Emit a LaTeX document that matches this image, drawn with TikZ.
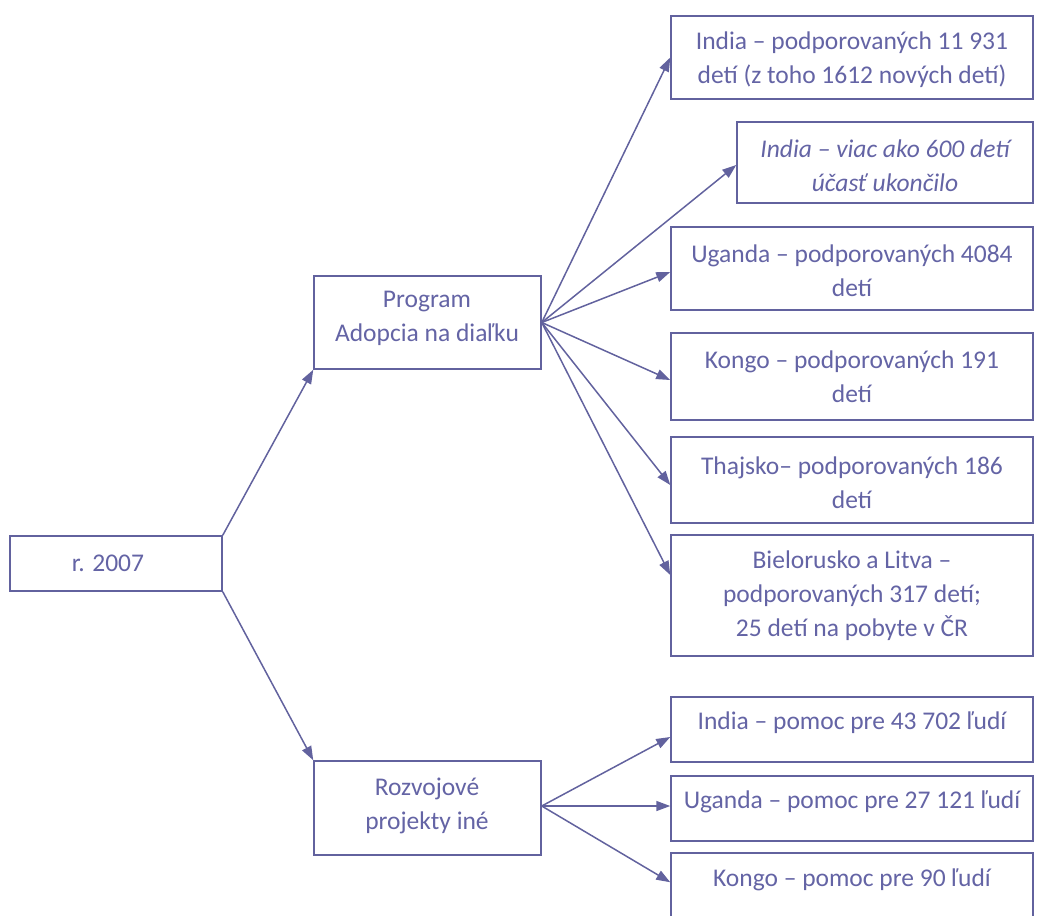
\documentclass[tikz,border=0pt]{standalone}
\usepackage{fontspec}
\setmainfont{Carlito}
\usetikzlibrary{arrows.meta,calc}
\definecolor{ink}{RGB}{98,98,158}
\definecolor{txt}{RGB}{100,100,165}
\begin{document}
\begin{tikzpicture}[x=1pt,y=-1pt,
  box/.style={draw=ink,line width=1.5pt,inner sep=0pt,fill=white},
  lbl/.style={text=txt,font=\fontsize{25.5}{34}\selectfont,align=center,inner sep=0pt},
  conn/.style={draw=ink,line width=1.5pt,-{Triangle[length=14pt,width=10pt]}}]
\clip (0,0) rectangle (1038,915);
\useasboundingbox (0,0) rectangle (1038,915);
% boxes: corners in pixel coordinates
\node[box,minimum width=212pt,minimum height=55pt] (root) at (116,563.5) {};
\node[box,minimum width=227pt,minimum height=93pt] (prog) at (427.5,322.5) {};
\node[box,minimum width=227pt,minimum height=94pt] (rozv) at (427.5,808) {};
\node[box,minimum width=362pt,minimum height=83pt] (b1) at (852,57.5) {};
\node[box,minimum width=296pt,minimum height=81pt] (b2) at (885,162.5) {};
\node[box,minimum width=362pt,minimum height=83pt] (b3) at (852,268.5) {};
\node[box,minimum width=362pt,minimum height=87pt] (b4) at (852,376.5) {};
\node[box,minimum width=362pt,minimum height=86pt] (b5) at (852,480) {};
\node[box,minimum width=362pt,minimum height=121pt] (b6) at (852,595.5) {};
\node[box,minimum width=362pt,minimum height=65pt] (b7) at (852,729.5) {};
\node[box,minimum width=362pt,minimum height=65pt] (b8) at (852,808.5) {};
\node[box,minimum width=362pt,minimum height=90pt] (b9) at (852,898) {};
% texts
\node[lbl] (troot) at (108,563) {r. 2007};
\node[lbl] (tprog) at (427,318) {Program\\Adopcia na diaľku};
\node[lbl] (trozv) at (427,806) {Rozvojové\\projekty iné};
\node[lbl] (t1) at (852,60) {India – podporovaných 11 931\\detí (z toho 1612 nových detí)};
\node[lbl,font=\fontsize{25.5}{34}\selectfont\itshape] (t2) at (885,166) {India – viac ako 600 detí\\účasť ukončilo};
\node[lbl] (t3) at (852,271) {Uganda – podporovaných 4084\\detí};
\node[lbl] (t4) at (852,377) {Kongo – podporovaných 191\\detí};
\node[lbl] (t5) at (852,483) {Thajsko– podporovaných 186\\detí};
\node[lbl] (t6) at (852,596) {Bielorusko a Litva –\\podporovaných 317 detí;\\25 detí na pobyte v ČR};
\node[lbl] (t7) at (852,723) {India – pomoc pre 43 702 ľudí};
\node[lbl] (t8) at (852,802) {Uganda – pomoc pre 27 121 ľudí};
\node[lbl] (t9) at (852,880) {Kongo – pomoc pre 90 ľudí};
% connectors
\draw[conn] (root.north east) -- (prog.south west);
\draw[conn] (root.south east) -- (rozv.north west);
\draw[conn] (prog.east) -- (b1.west);
\draw[conn] (prog.east) -- ([yshift=-2.5pt]b2.west);
\draw[conn] (prog.east) -- ([yshift=-3.5pt]b3.west);
\draw[conn] (prog.east) -- ([yshift=-3.5pt]b4.west);
\draw[conn] (prog.east) -- ([yshift=-5pt]b5.west);
\draw[conn] (prog.east) -- ([yshift=20.5pt]b6.west);
\draw[conn] ([yshift=2pt]rozv.east) -- ([yshift=-7.5pt]b7.west);
\draw[conn] ([yshift=2pt]rozv.east) -- ([yshift=2.5pt]b8.west);
\draw[conn] ([yshift=2pt]rozv.east) -- ($(b9.north west)+(0,30)$);
\end{tikzpicture}
\end{document}
